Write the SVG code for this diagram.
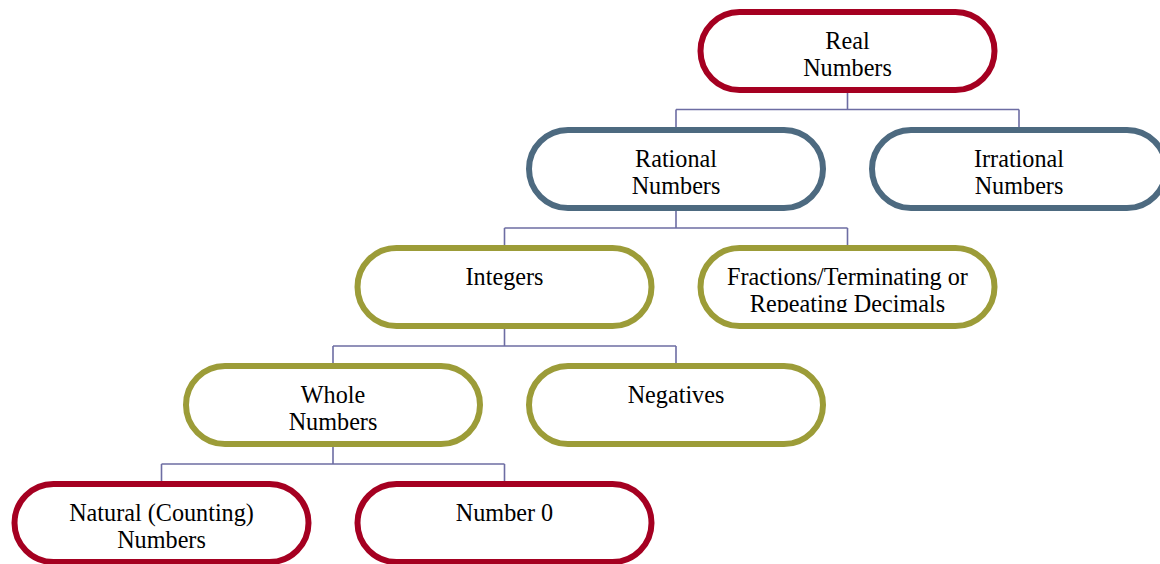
<svg xmlns="http://www.w3.org/2000/svg" width="1160" height="564" viewBox="0 0 1160 564">
<style>
.box{fill:#ffffff;stroke-width:6}
.red{stroke:#a50021}
.blue{stroke:#4d6a80}
.olive{stroke:#9c9c38}
.t{font-family:"Liberation Serif","Times New Roman",serif;font-size:24.2px;fill:#000;text-anchor:middle}
.c{fill:none;stroke:#6d6da3;stroke-width:1.6}
</style>
<defs>
<clipPath id="clipFr"><rect x="697" y="245" width="302" height="67"/></clipPath>
</defs>
<rect width="1160" height="564" fill="#ffffff"/>
<g id="connectors">
<path class="c" d="M847.5 91 V109.5 M676 109.5 H1019 M676 109.5 V127 M1019 109.5 V127"/>
<path class="c" d="M676 209 V228 M504.5 228 H847.5 M504.5 228 V245 M847.5 228 V245"/>
<path class="c" d="M504.5 327 V346 M333 346 H676 M333 346 V363 M676 346 V363"/>
<path class="c" d="M333 445 V464 M161.5 464 H504.5 M161.5 464 V481"/>
<path class="c" d="M504.5 464 V481"/>
</g>
<g id="real">
<rect class="box red" x="700.5" y="12" width="294" height="78" rx="39"/>
<text class="t" x="847.5" y="48.5">Real</text>
<text class="t" x="847.5" y="75.5">Numbers</text>
</g>
<g id="rational">
<rect class="box blue" x="529" y="130" width="294" height="78" rx="39"/>
<text class="t" x="676" y="166.5">Rational</text>
<text class="t" x="676" y="193.5">Numbers</text>
</g>
<g id="irrational">
<rect class="box blue" x="872" y="130" width="294" height="78" rx="39"/>
<text class="t" x="1019" y="166.5">Irrational</text>
<text class="t" x="1019" y="193.5">Numbers</text>
</g>
<g id="integers">
<rect class="box olive" x="357.5" y="248" width="294" height="78" rx="39"/>
<text class="t" x="504.5" y="284.5">Integers</text>
</g>
<g id="fractions">
<rect class="box olive" x="700.5" y="248" width="294" height="78" rx="39"/>
<g clip-path="url(#clipFr)">
<text class="t" x="847.5" y="284.5">Fractions/Terminating or</text>
<text class="t" x="847.5" y="311.5">Repeating Decimals</text>
</g>
</g>
<g id="whole">
<rect class="box olive" x="186" y="366" width="294" height="78" rx="39"/>
<text class="t" x="333" y="402.5">Whole</text>
<text class="t" x="333" y="429.5">Numbers</text>
</g>
<g id="negatives">
<rect class="box olive" x="529" y="366" width="294" height="78" rx="39"/>
<text class="t" x="676" y="402.5">Negatives</text>
</g>
<g id="natural">
<rect class="box red" x="14.5" y="484" width="294" height="78" rx="39"/>
<text class="t" x="161.5" y="520.5">Natural (Counting)</text>
<text class="t" x="161.5" y="547.5">Numbers</text>
</g>
<g id="zero">
<rect class="box red" x="357.5" y="484" width="294" height="78" rx="39"/>
<text class="t" x="504.5" y="520.5">Number 0</text>
</g>
</svg>
